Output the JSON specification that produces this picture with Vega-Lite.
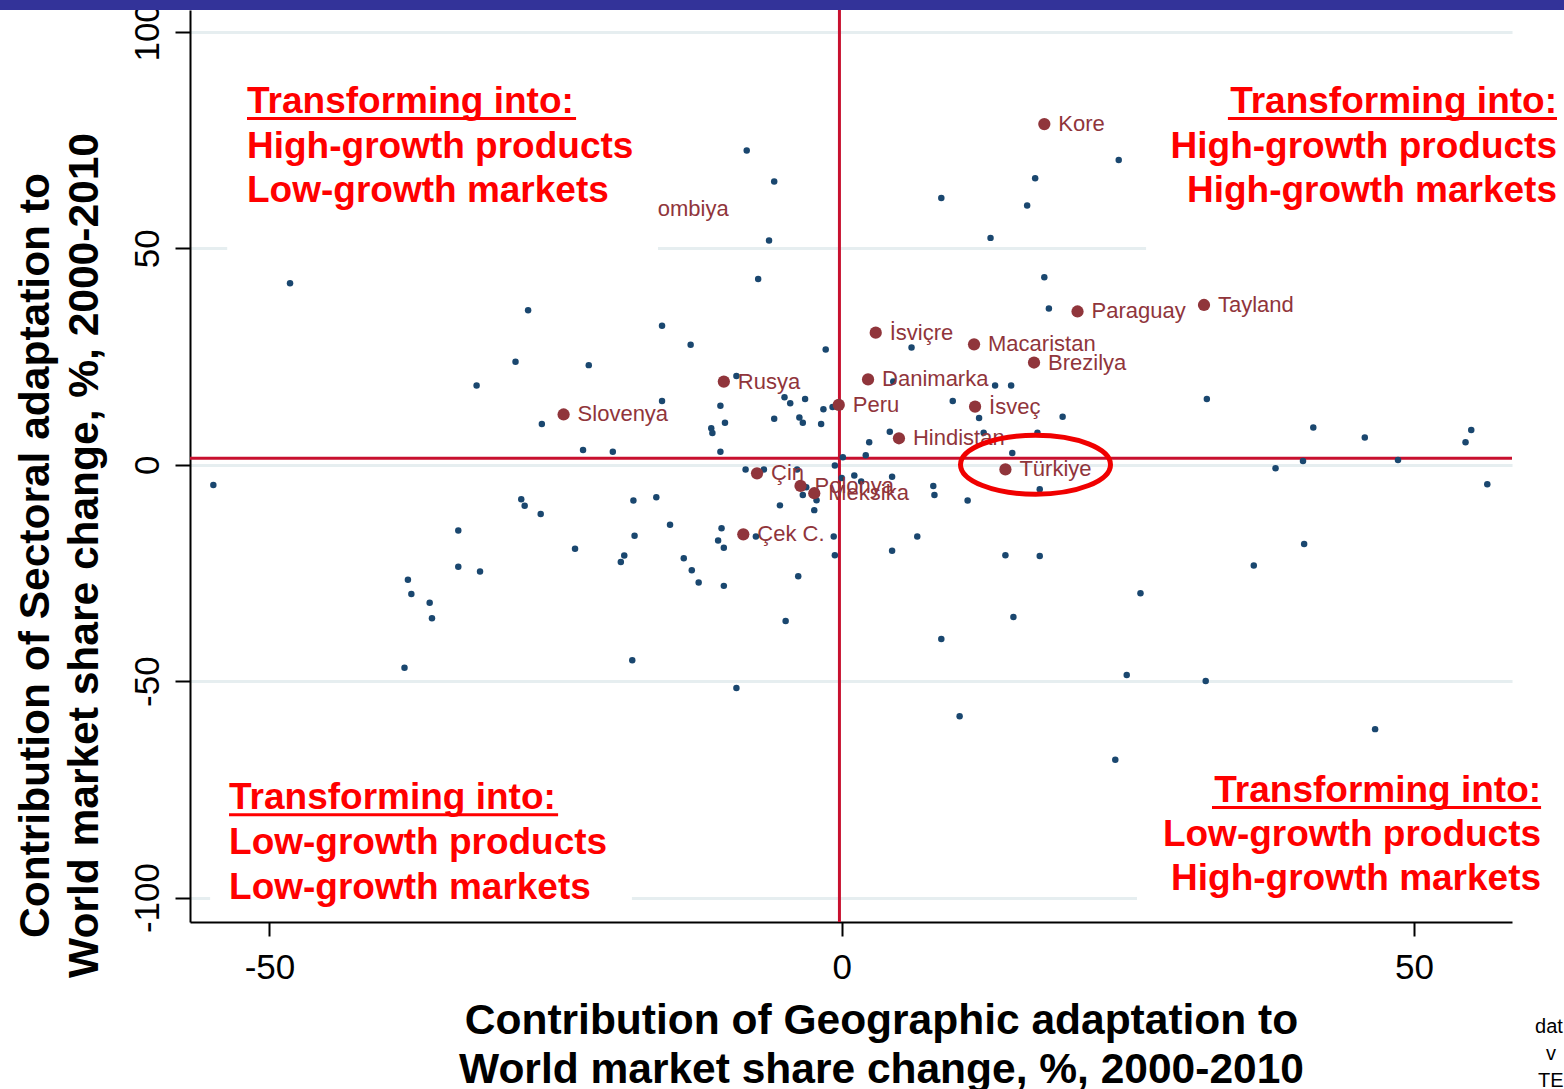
{
"$schema": "https://vega.github.io/schema/vega-lite/v6.json",
"width": 1322, "height": 912,
"autosize": {"type": "none"},
"padding": {"left": 190, "top": 10, "right": 52, "bottom": 167},
"background": "#ffffff",
"config": {"view": {"stroke": null}, "font": "Liberation Sans",
 "axisX": {"grid": false, "zindex": 0, "domainColor": "#000000", "domainWidth": 2, "tickColor": "#000000", "tickWidth": 2, "tickSize": 14,
   "labelFontSize": 35, "labelColor": "#000000", "labelFont": "Liberation Sans", "labelPadding": 14, "labelFlush": false, "labelOverlap": false,
   "labelExpr": "'' + datum.value",
   "titleFont": "Liberation Sans", "titleFontSize": 42.5, "titleFontWeight": "bold", "titleColor": "#000000", "titleX": 691, "titleY": 111,
   "titleAlign": "center", "titleBaseline": "alphabetic", "titleLineHeight": 49, "titleLimit": 3000},
 "axisY": {"grid": true, "gridColor": "#E6EEF0", "gridWidth": 3, "zindex": 0, "domainColor": "#000000", "domainWidth": 2, "tickColor": "#000000", "tickWidth": 2, "tickSize": 15,
   "labelAngle": -90, "labelAlign": "center", "labelBaseline": "alphabetic", "labelFontSize": 35, "labelColor": "#000000", "labelFont": "Liberation Sans", "labelPadding": 17, "labelFlush": false, "labelOverlap": false,
   "labelExpr": "'' + datum.value",
   "titleFont": "Liberation Sans", "titleFontSize": 42.5, "titleFontWeight": "bold", "titleColor": "#000000", "titleAngle": -90, "titleX": -142, "titleY": 545,
   "titleAlign": "center", "titleBaseline": "alphabetic", "titleLineHeight": 49, "titleLimit": 3000}
},
"datasets": {
"others": [
{"x":-54.9,"y":-4.7},{"x":-48.2,"y":41.9},{"x":-28.5,"y":23.8},{"x":-31.9,"y":18.3},{"x":-33.5,"y":-15.2},{"x":-33.5,"y":-23.6},{"x":-31.6,"y":-24.7},{"x":-37.9,"y":-26.6},{"x":-37.6,"y":-29.9},{"x":-28.0,"y":-8.0},{"x":-27.7,"y":-9.5},{"x":-26.3,"y":-11.4},{"x":-36.0,"y":-31.9},{"x":-35.8,"y":-35.5},{"x":-38.2,"y":-46.9},{"x":-23.3,"y":-19.4},{"x":-18.2,"y":-8.3},{"x":-18.1,"y":-16.4},{"x":-19.0,"y":-21.0},{"x":-19.3,"y":-22.5},{"x":-18.3,"y":-45.2},{"x":-22.6,"y":3.4},{"x":-20.0,"y":3.0},{"x":-10.6,"y":3.0},{"x":-8.4,"y":-1.1},{"x":-6.8,"y":-1.1},{"x":-3.9,"y":-1.1},{"x":-3.1,"y":-5.2},{"x":-3.4,"y":-7.0},{"x":-2.2,"y":-8.2},{"x":-2.4,"y":-10.5},{"x":-5.4,"y":-9.4},{"x":-0.6,"y":-0.2},{"x":0.1,"y":1.7},{"x":0.0,"y":-3.1},{"x":1.1,"y":-2.5},{"x":-16.2,"y":-7.5},{"x":-15.0,"y":-13.9},{"x":-13.8,"y":-21.6},{"x":-13.1,"y":-24.4},{"x":-12.5,"y":-27.2},{"x":-10.3,"y":-28.0},{"x":-10.5,"y":-14.7},{"x":-10.8,"y":-17.5},{"x":-10.3,"y":-19.2},{"x":-7.5,"y":-16.6},{"x":-0.7,"y":-16.6},{"x":-0.6,"y":-20.9},{"x":-3.8,"y":-25.8},{"x":-4.9,"y":-36.1},{"x":-9.2,"y":-51.6},{"x":18.1,"y":36.1},{"x":6.1,"y":27.1},{"x":-1.4,"y":26.6},{"x":-9.2,"y":20.5},{"x":4.5,"y":19.2},{"x":13.4,"y":18.3},{"x":14.8,"y":18.3},{"x":-5.0,"y":15.6},{"x":-4.5,"y":14.2},{"x":-3.2,"y":15.2},{"x":-10.6,"y":13.6},{"x":-1.6,"y":12.8},{"x":-0.8,"y":13.3},{"x":9.7,"y":14.7},{"x":12.0,"y":10.8},{"x":19.3,"y":11.1},{"x":-5.9,"y":10.6},{"x":-3.7,"y":10.9},{"x":-3.4,"y":9.7},{"x":-1.8,"y":9.4},{"x":-10.2,"y":9.7},{"x":-11.4,"y":8.4},{"x":-11.3,"y":7.3},{"x":4.2,"y":7.6},{"x":2.4,"y":5.2},{"x":2.1,"y":2.2},{"x":12.4,"y":7.4},{"x":17.1,"y":7.4},{"x":14.9,"y":2.7},{"x":17.3,"y":-5.7},{"x":1.7,"y":-3.9},{"x":4.4,"y":-2.8},{"x":8.0,"y":-4.9},{"x":8.1,"y":-7.0},{"x":11.0,"y":-8.3},{"x":6.6,"y":-16.6},{"x":4.4,"y":-19.9},{"x":14.3,"y":-20.9},{"x":17.3,"y":-21.1},{"x":26.1,"y":-29.7},{"x":-8.3,"y":72.6},{"x":-5.9,"y":65.4},{"x":-6.35,"y":51.8},{"x":-7.3,"y":42.9},{"x":-27.4,"y":35.7},{"x":-15.7,"y":32.1},{"x":-13.2,"y":27.7},{"x":-22.1,"y":23.0},{"x":-15.7,"y":14.7},{"x":-26.2,"y":9.4},{"x":24.2,"y":70.4},{"x":16.9,"y":66.2},{"x":8.7,"y":61.6},{"x":16.2,"y":59.9},{"x":13.0,"y":52.4},{"x":17.7,"y":43.3},{"x":31.9,"y":15.2},{"x":41.2,"y":8.6},{"x":45.7,"y":6.3},{"x":55.0,"y":8.0},{"x":54.5,"y":5.2},{"x":40.3,"y":0.85},{"x":37.9,"y":-0.8},{"x":48.6,"y":1.1},{"x":56.4,"y":-4.5},{"x":40.4,"y":-18.3},{"x":36.0,"y":-23.3},{"x":24.9,"y":-48.6},{"x":31.8,"y":-50.0},{"x":46.6,"y":-61.1},{"x":8.7,"y":-40.3},{"x":10.3,"y":-58.1},{"x":15.0,"y":-35.2},{"x":23.9,"y":-68.2}
],
"countries": [
{"country":"Kore","x":17.7,"y":78.7},{"country":"Tayland","x":31.65,"y":36.9},{"country":"Paraguay","x":20.6,"y":35.4},{"country":"İsviçre","x":2.97,"y":30.5},{"country":"Macaristan","x":11.56,"y":27.8},{"country":"Brezilya","x":16.8,"y":23.6},{"country":"Rusya","x":-10.3,"y":19.2},{"country":"Danimarka","x":2.3,"y":19.7},{"country":"Peru","x":-0.26,"y":13.8},{"country":"İsveç","x":11.65,"y":13.4},{"country":"Slovenya","x":-24.3,"y":11.6},{"country":"Hindistan","x":5.0,"y":6.1},{"country":"Türkiye","x":14.3,"y":-1.1},{"country":"Çin","x":-7.4,"y":-2.0},{"country":"Polonya","x":-3.6,"y":-4.9},{"country":"Meksika","x":-2.4,"y":-6.6},{"country":"Çek C.","x":-8.6,"y":-16.1},{"country":"Kolombiya","x":-20.07,"y":59.0}
],
"boxes": [
{"x":-53.69,"x2":-16.05,"y":47.76,"y2":91.2},{"x":26.59,"x2":64,"y":47.76,"y2":91.2},{"x":-55.18,"x2":-18.33,"y":-104.0,"y2":-68.2},{"x":25.8,"x2":64,"y":-102.9,"y2":-65.9}
],
"notesLeft": [
{"x":-51.96,"y":81.26,"text":"Transforming into:"},{"x":-51.96,"y":70.87,"text":"High-growth products"},{"x":-51.96,"y":60.7,"text":"Low-growth markets"},
{"x":-53.53,"y":-79.6,"text":"Transforming into:"},{"x":-53.53,"y":-90.0,"text":"Low-growth products"},{"x":-53.53,"y":-100.4,"text":"Low-growth markets"}
],
"notesRight": [
{"x":62.49,"y":81.26,"text":"Transforming into:"},{"x":62.49,"y":70.87,"text":"High-growth products"},{"x":62.49,"y":60.7,"text":"High-growth markets"},
{"x":61.1,"y":-77.9,"text":"Transforming into:"},{"x":61.1,"y":-88.1,"text":"Low-growth products"},{"x":61.1,"y":-98.3,"text":"High-growth markets"}
],
"underlines": [
{"x":-51.96,"x2":-23.21,"y":80.0},{"x":33.74,"x2":62.49,"y":80.0},{"x":-53.53,"x2":-24.78,"y":-80.9},{"x":32.35,"x2":61.1,"y":-79.2}
]
},
"layer": [
{"data":{"values":[{"x":-0.2}]},"mark":{"type":"rule","color":"#C8102E","strokeWidth":3},
 "encoding":{"x":{"field":"x","type":"quantitative","scale":{"domain":[-56.94,58.56],"nice":false,"zero":false},
   "axis":{"values":[-50,0,50],"title":["Contribution of Geographic adaptation to","World market share change, %, 2000-2010"]}}}},
{"data":{"values":[{"y":1.5}]},"mark":{"type":"rule","color":"#C8102E","strokeWidth":3},
 "encoding":{"y":{"field":"y","type":"quantitative","scale":{"domain":[-105.66,105.05],"nice":false,"zero":false},
   "axis":{"values":[-100,-50,0,50,100],"title":["Contribution of  Sectoral adaptation to","World market share change, %, 2000-2010"]}}}},
{"data":{"name":"others"},"mark":{"type":"circle","size":42,"color":"#1A476F","opacity":1},
 "encoding":{
  "x":{"field":"x","type":"quantitative","scale":{"domain":[-56.94,58.56],"nice":false,"zero":false}},
  "y":{"field":"y","type":"quantitative","scale":{"domain":[-105.66,105.05],"nice":false,"zero":false}}}},
{"data":{"name":"countries"},"mark":{"type":"circle","size":150,"color":"#90353B","opacity":1},
 "encoding":{"x":{"field":"x","type":"quantitative","scale":{"domain":[-56.94,58.56],"nice":false,"zero":false}},
  "y":{"field":"y","type":"quantitative","scale":{"domain":[-105.66,105.05],"nice":false,"zero":false}}}},
{"data":{"name":"countries"},"mark":{"type":"text","align":"left","baseline":"middle","dx":14,"fontSize":22,"font":"Liberation Sans","color":"#90353B"},
 "encoding":{"x":{"field":"x","type":"quantitative","scale":{"domain":[-56.94,58.56],"nice":false,"zero":false}},
  "y":{"field":"y","type":"quantitative","scale":{"domain":[-105.66,105.05],"nice":false,"zero":false}},
  "text":{"field":"country","type":"nominal"}}},
{"data":{"name":"boxes"},"mark":{"type":"rect","color":"#ffffff","opacity":1},
 "encoding":{"x":{"field":"x","type":"quantitative","scale":{"domain":[-56.94,58.56],"nice":false,"zero":false}},"x2":{"field":"x2"},
  "y":{"field":"y","type":"quantitative","scale":{"domain":[-105.66,105.05],"nice":false,"zero":false}},"y2":{"field":"y2"}}},
{"data":{"name":"notesLeft"},"mark":{"type":"text","align":"left","baseline":"alphabetic","fontSize":37,"fontWeight":"bold","font":"Liberation Sans","color":"#FF0000"},
 "encoding":{"x":{"field":"x","type":"quantitative","scale":{"domain":[-56.94,58.56],"nice":false,"zero":false}},
  "y":{"field":"y","type":"quantitative","scale":{"domain":[-105.66,105.05],"nice":false,"zero":false}},
  "text":{"field":"text","type":"nominal"}}},
{"data":{"name":"notesRight"},"mark":{"type":"text","align":"right","baseline":"alphabetic","fontSize":37,"fontWeight":"bold","font":"Liberation Sans","color":"#FF0000"},
 "encoding":{"x":{"field":"x","type":"quantitative","scale":{"domain":[-56.94,58.56],"nice":false,"zero":false}},
  "y":{"field":"y","type":"quantitative","scale":{"domain":[-105.66,105.05],"nice":false,"zero":false}},
  "text":{"field":"text","type":"nominal"}}},
{"data":{"name":"underlines"},"mark":{"type":"rule","color":"#FF0000","strokeWidth":3},
 "encoding":{"x":{"field":"x","type":"quantitative","scale":{"domain":[-56.94,58.56],"nice":false,"zero":false}},"x2":{"field":"x2"},
  "y":{"field":"y","type":"quantitative","scale":{"domain":[-105.66,105.05],"nice":false,"zero":false}}}},
{"data":{"values":[{"x":16.93,"y":0.0}]},"mark":{"type":"point","filled":false,"opacity":1,"stroke":"#F00000","strokeWidth":5,"size":22500,
  "shape":"M 1 0 C 1 0.217 0.5523 0.393 0 0.393 C -0.5523 0.393 -1 0.217 -1 0 C -1 -0.217 -0.5523 -0.393 0 -0.393 C 0.5523 -0.393 1 -0.217 1 0 Z"},
 "encoding":{"x":{"field":"x","type":"quantitative","scale":{"domain":[-56.94,58.56],"nice":false,"zero":false}},
  "y":{"field":"y","type":"quantitative","scale":{"domain":[-105.66,105.05],"nice":false,"zero":false}}}},
{"data":{"values":[{"x":-80,"x2":80,"y":105.05,"y2":125}]},"mark":{"type":"rect","color":"#333399","opacity":1},
 "encoding":{"x":{"field":"x","type":"quantitative","scale":{"domain":[-56.94,58.56],"nice":false,"zero":false}},"x2":{"field":"x2"},
  "y":{"field":"y","type":"quantitative","scale":{"domain":[-105.66,105.05],"nice":false,"zero":false}},"y2":{"field":"y2"}}},
{"data":{"values":[{"x":60.57,"y":-131.3,"text":"dat"},{"x":61.53,"y":-137.5,"text":"v"},{"x":60.83,"y":-143.8,"text":"TE"}]},
 "mark":{"type":"text","align":"left","baseline":"alphabetic","fontSize":20,"font":"Liberation Sans","color":"#000000"},
 "encoding":{"x":{"field":"x","type":"quantitative","scale":{"domain":[-56.94,58.56],"nice":false,"zero":false}},
  "y":{"field":"y","type":"quantitative","scale":{"domain":[-105.66,105.05],"nice":false,"zero":false}},
  "text":{"field":"text","type":"nominal"}}}
]
}
